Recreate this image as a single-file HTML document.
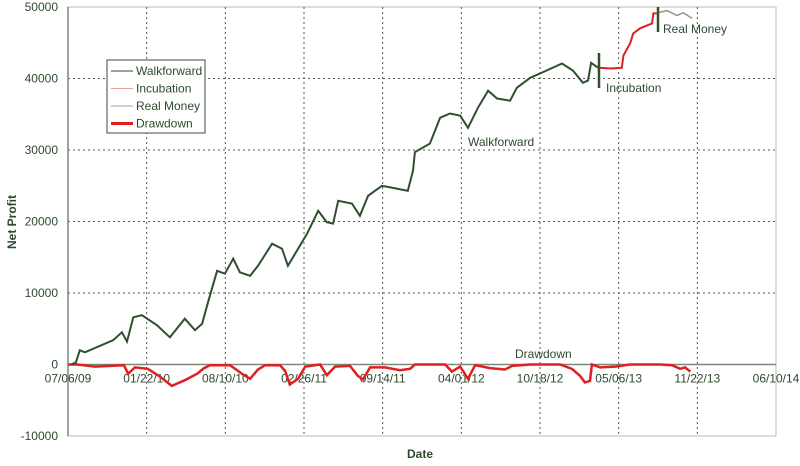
<!DOCTYPE html>
<html><head><meta charset="utf-8"><style>
body{margin:0;background:#fff;width:800px;height:461px;overflow:hidden}
svg{font-family:"Liberation Sans",sans-serif}
</style></head><body>
<svg id="chart" width="800" height="461">
<g id="grid"></g><g id="axes"></g><g id="series"></g><g id="ann"></g>
</svg>
<script>
const xTickLabels=["07/06/09","01/22/10","08/10/10","02/26/11","09/14/11","04/01/12","10/18/12","05/06/13","11/22/13","06/10/14"];
const yTicks=[50000,40000,30000,20000,10000,0,-10000];
const wfDays=[8,20,30,43,115,137,150,166,188,226,259,297,323,341,356,379,399,420,437,463,483,519,544,559,608,636,658,674,687,722,742,763,798,836,864,877,882,920,946,971,997,1017,1042,1068,1091,1124,1141,1175,1200,1256,1284,1309,1322,1330,1348];
const wfVals=[0,300,2000,1700,3400,4500,3200,6600,6900,5500,3800,6400,4800,5700,8700,13100,12700,14800,12900,12400,13800,16900,16200,13800,18300,21500,19900,19700,22900,22500,20800,23600,25000,24600,24300,27100,29700,30900,34500,35100,34800,33100,35900,38300,37200,36900,38700,40100,40700,42100,41100,39400,39700,42200,41500];
const incDays=[1348,1380,1408,1412,1429,1437,1454,1485,1488,1497];
const incVals=[41500,41400,41500,43200,44900,46300,47000,47700,49100,49100];
const rmDays=[1497,1500,1523,1548,1564,1587];
const rmVals=[49100,49200,49500,48800,49200,48400];
const ddDays=[0,23,69,142,153,170,203,234,264,297,328,346,361,412,445,463,483,501,539,552,564,585,603,641,658,679,717,737,750,768,806,844,870,882,959,976,997,1017,1035,1073,1111,1129,1175,1251,1281,1302,1314,1327,1332,1353,1391,1429,1505,1536,1556,1569,1582];
const ddVals=[0,0,-300,-100,-1300,-400,-600,-1700,-3000,-2200,-1300,-500,-100,-100,-1400,-2000,-700,-100,-100,-900,-2800,-2000,-300,0,-1500,-300,-200,-1600,-2100,-400,-400,-800,-600,0,0,-1000,-300,-2000,-100,-500,-700,-200,0,0,-600,-1600,-2500,-2300,0,-400,-300,0,0,-100,-600,-400,-1000];

const L=68,R=776,T=7,B=436,NS="http://www.w3.org/2000/svg";
const xs=d=>L+(R-L)*d/1800;
const ys=v=>T+(B-T)*(50000-v)/60000;
function el(tag,attrs,parent,text){const e=document.createElementNS(NS,tag);for(const k in attrs)e.setAttribute(k,attrs[k]);if(text!==undefined)e.textContent=text;document.getElementById(parent).appendChild(e);return e;}
const C="#2d4a2d";
el("rect",{x:L,y:T,width:R-L,height:B-T,fill:"none",stroke:"#bbb"},"grid");
yTicks.forEach(v=>{
  const y=ys(v);
  if(v!==0&&v!==-10000&&v!==50000){const g=el("line",{x1:L,x2:R,y1:y,y2:y,stroke:"#555","stroke-dasharray":"2,3"},"grid");
  
  }
  const t=el("text",{x:L-10,y:y+4,"text-anchor":"end","font-size":12,fill:C},"axes",String(v));
  
  
});
xTickLabels.forEach((s,i)=>{
  const x=xs(i*200);
  if(i>0&&i<9){const g=el("line",{x1:x,x2:x,y1:T,y2:B,stroke:"#555","stroke-dasharray":"2,3"},"grid");
  
  }
  const t=el("text",{x:x,y:ys(0)+18,"text-anchor":"middle","font-size":12,fill:C},"axes",s);
  
  
});
const z=el("line",{x1:L,x2:R,y1:ys(0),y2:ys(0),stroke:"#7a8a7a","stroke-width":1.5},"axes");


const la=el("line",{x1:L,x2:L,y1:T,y2:B,stroke:"#7a8a7a","stroke-width":1.5},"axes");


const yt=el("text",{x:0,y:0,transform:"translate(16,222) rotate(-90)","text-anchor":"middle","font-size":12,"font-weight":"bold",fill:C},"axes","Net Profit");


const xt=el("text",{x:420,y:458,"text-anchor":"middle","font-size":12,"font-weight":"bold",fill:C},"axes","Date");


function pts(ds,vs){return ds.map((d,i)=>xs(d).toFixed(1)+","+ys(vs[i]).toFixed(1)).join(" ");}
const dd=el("polyline",{points:pts(ddDays,ddVals),fill:"none",stroke:"#e02020","stroke-width":2.5},"series");


const wf=el("polyline",{points:pts(wfDays,wfVals),fill:"none",stroke:"#2f4f2f","stroke-width":2},"series");


const ic=el("polyline",{points:pts(incDays,incVals),fill:"none",stroke:"#e02020","stroke-width":2},"series");


const rm=el("polyline",{points:pts(rmDays,rmVals),fill:"none",stroke:"#8a9a8a","stroke-width":1.5},"series");


const m1=el("line",{x1:599,x2:599,y1:53,y2:88,stroke:"#2f4f2f","stroke-width":2.5},"ann");


const m2=el("line",{x1:658,x2:658,y1:7,y2:32,stroke:"#2f4f2f","stroke-width":2.5},"ann");


[["Walkforward",468,146],["Incubation",606,92],["Real Money",663,33],["Drawdown",515,358]].forEach(a=>{
  const t=el("text",{x:a[1],y:a[2],"font-size":12,fill:C},"ann",a[0]);
  
  
});
const lg=el("rect",{x:107,y:60,width:98,height:73,fill:"#fff",stroke:"#444"},"ann");


[["Walkforward","#2f4f2f",1],["Incubation","#e8a0a0",1],["Real Money","#9aa89a",1],["Drawdown","#e02020",3]].forEach((e,i)=>{
  const y=71+i*17.5;
  const l=el("line",{x1:111,x2:133,y1:y,y2:y,stroke:e[1],"stroke-width":e[2]},"ann");
  
  
  const t=el("text",{x:136,y:y+4,"font-size":12,fill:C},"ann",e[0]);
  
  
});
</script>
</body></html>
